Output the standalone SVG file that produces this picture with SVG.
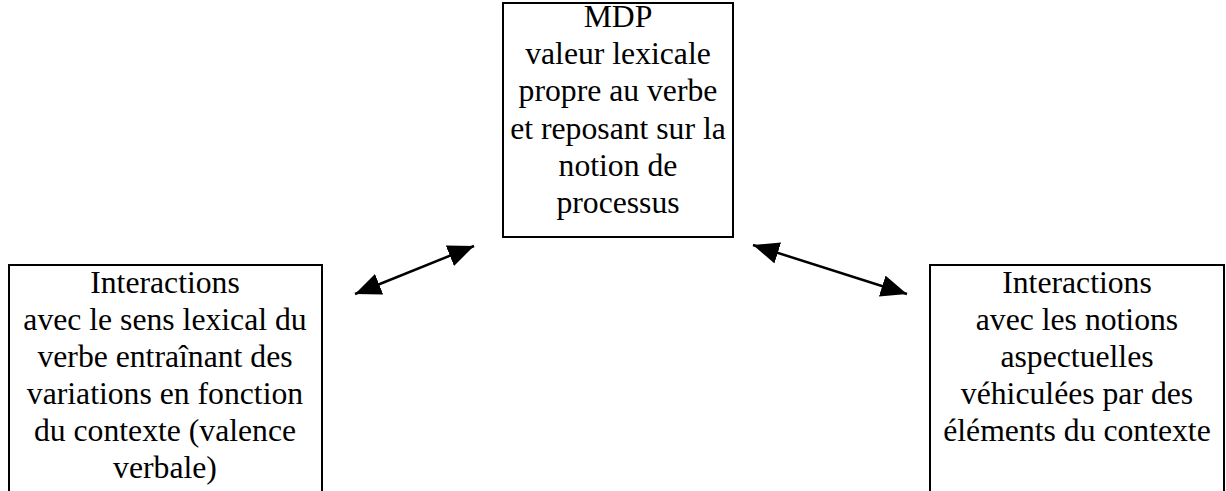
<svg xmlns="http://www.w3.org/2000/svg" width="1226" height="491" viewBox="0 0 1226 491">
<style>
.box{fill:#fff;stroke:#000;stroke-width:2}
.t{font-family:'Liberation Serif','Times New Roman',serif;font-size:31.7px;fill:#000;text-anchor:middle}
.c{stroke:#000;stroke-width:2.5;fill:none}
</style>
<defs>
<marker id="arrowhead" viewBox="0 0 26 22" refX="26" refY="11" markerWidth="26" markerHeight="22" markerUnits="userSpaceOnUse" orient="auto-start-reverse">
<path d="M0,0 L26,11 L0,22 z" fill="#000"/>
</marker>
</defs>
<rect width="1226" height="491" fill="#fff"/>
<g id="node-mdp">
<rect class="box" x="503" y="3" width="230" height="234"/>
<text class="t" x="618" y="27">MDP</text>
<text class="t" x="618" y="64">valeur lexicale</text>
<text class="t" x="618" y="101">propre au verbe</text>
<text class="t" x="618" y="139">et reposant sur la</text>
<text class="t" x="618" y="176">notion de</text>
<text class="t" x="618" y="213">processus</text>
</g>
<g id="node-left">
<rect class="box" x="9" y="265" width="313" height="240"/>
<text class="t" x="165" y="293">Interactions</text>
<text class="t" x="165" y="330">avec le sens lexical du</text>
<text class="t" x="165" y="367">verbe entraînant des</text>
<text class="t" x="165" y="404">variations en fonction</text>
<text class="t" x="165" y="441">du contexte (valence</text>
<text class="t" x="165" y="478">verbale)</text>
</g>
<g id="node-right">
<rect class="box" x="930" y="265" width="294" height="240"/>
<text class="t" x="1077" y="293">Interactions</text>
<text class="t" x="1077" y="330">avec les notions</text>
<text class="t" x="1077" y="367">aspectuelles</text>
<text class="t" x="1077" y="404">véhiculées par des</text>
<text class="t" x="1077" y="441">éléments du contexte</text>
</g>
<g id="connectors">
<line class="c" x1="355" y1="294" x2="474" y2="246" marker-start="url(#arrowhead)" marker-end="url(#arrowhead)"/>
<line class="c" x1="753" y1="245" x2="907" y2="294" marker-start="url(#arrowhead)" marker-end="url(#arrowhead)"/>
</g>
</svg>
